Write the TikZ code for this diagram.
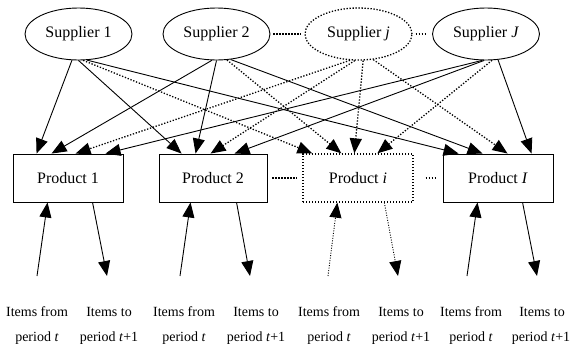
\documentclass[tikz,border=0pt]{standalone}
\usepackage{fontspec}
\setmainfont{Liberation Serif}
\usetikzlibrary{arrows.meta,shapes.geometric}
\begin{document}
\begin{tikzpicture}[x=1pt,y=-1pt,
 sup/.style={ellipse,draw,line width=0.9pt,minimum width=107pt,minimum height=52pt,inner sep=0pt,font=\fontsize{16}{19}\selectfont},
 prod/.style={rectangle,draw,line width=0.9pt,minimum width=110pt,minimum height=48pt,inner sep=0pt,font=\fontsize{16}{19}\selectfont},
 dots/.style={dash pattern=on 1.3pt off 1.7pt,line width=1.3pt},
 thindots/.style={dash pattern=on 1pt off 1.5pt,line width=0.9pt},
 link/.style={line width=0.9pt,-{Triangle[length=15pt,width=12pt]}},
 lab/.style={font=\fontsize{14}{17}\selectfont,inner sep=0pt}
]
\useasboundingbox (0,0) rectangle (570,346);

% suppliers
\node[sup] (s1) at (78.5,34) {Supplier 1};
\node[sup] (s2) at (216.5,34) {Supplier 2};
\node[sup,dots] (sj) at (358.5,34) {Supplier \textit{j}};
\node[sup] (sJ) at (486,34) {Supplier \textit{J}};

% products
\node[prod] (p1) at (68,178) {Product 1};
\node[prod,minimum width=108pt] (p2) at (213,178) {Product 2};
\node[prod,dots] (pi) at (358,178) {Product \textit{i}};
\node[prod] (pI) at (498,178) {Product \textit{I}};

% dotted links between nodes of a row
\draw[dots,shorten <=3pt,shorten >=3pt] (s2.east) -- (sj.west);
\draw[dots,shorten <=3pt,shorten >=5pt] (sj.east) -- (sJ.west);
\draw[dots,shorten <=5pt,shorten >=5pt] (p2.east) -- (pi.west);
\draw[dots,shorten <=12pt,shorten >=6pt] (pi.east) -- (pI.west);

% Supplier 1
\draw[link] (s1.-104) -- ([xshift=24pt]p1.north west);
\draw[link] (s1.-90) -- ([xshift=23pt]p2.north west);
\draw[link,dots] (s1.-80) -- ([xshift=10pt]pi.north west);
\draw[link] (s1.-72) -- ([xshift=16pt]pI.north west);
% Supplier 2
\draw[link] (s2.-100) -- ([xshift=39pt]p1.north west);
\draw[link] (s2.-90) -- ([xshift=37pt]p2.north west);
\draw[link,dots] (s2.-68) -- ([xshift=39pt]pi.north west);
\draw[link] (s2.-61) -- ([xshift=40pt]pI.north west);
% Supplier j
\draw[link,dots] (sj.-108) -- ([xshift=63pt]p1.north west);
\draw[link,dots] (sj.-98) -- ([xshift=52pt]p2.north west);
\draw[link,dots] (sj.-80) -- ([xshift=52pt]pi.north west);
\draw[link,dots] (sj.-60) -- ([xshift=65pt]pI.north west);
% Supplier J
\draw[link] (sJ.-98) -- ([xshift=93pt]p1.north west);
\draw[link] (sJ.-94) -- ([xshift=76pt]p2.north west);
\draw[link,dots] (sJ.-77) -- ([xshift=75pt]pi.north west);
\draw[link] (sJ.-65) -- ([xshift=89pt]pI.north west);

% period flows
\coordinate (i1) at (37,276);  \coordinate (o1) at (107,276);
\coordinate (i2) at (180,276); \coordinate (o2) at (250,276);
\coordinate (i3) at (328,276); \coordinate (o3) at (398,276);
\coordinate (i4) at (467,276); \coordinate (o4) at (537,276);
\draw[link] (i1) -- ([xshift=35pt]p1.south west);
\draw[link] ([xshift=80pt]p1.south west) -- (o1);
\draw[link] (i2) -- ([xshift=32pt]p2.south west);
\draw[link] ([xshift=78pt]p2.south west) -- (o2);
\draw[link,thindots] (i3) -- ([xshift=35pt]pi.south west);
\draw[link,thindots] ([xshift=82pt]pi.south west) -- (o3);
\draw[link] (i4) -- ([xshift=35pt]pI.south west);
\draw[link] ([xshift=80pt]pI.south west) -- (o4);

% labels
\node[lab] (f1) at (37,312) {Items from};
\node[lab] (g1) at (37,338) {period \textit{t}};
\node[lab] (h1) at (109,312) {Items to};
\node[lab] (k1) at (109,338) {period \textit{t}+1};
\node[lab] (f2) at (184,312) {Items from};
\node[lab] (g2) at (184,338) {period \textit{t}};
\node[lab] (h2) at (256,312) {Items to};
\node[lab] (k2) at (256,338) {period \textit{t}+1};
\node[lab] (f3) at (329,312) {Items from};
\node[lab] (g3) at (329,338) {period \textit{t}};
\node[lab] (h3) at (401,312) {Items to};
\node[lab] (k3) at (401,338) {period \textit{t}+1};
\node[lab] (f4) at (471,312) {Items from};
\node[lab] (g4) at (471,338) {period \textit{t}};
\node[lab] (h4) at (542,312) {Items to};
\node[lab] (k4) at (541,338) {period \textit{t}+1};
\end{tikzpicture}
\end{document}
